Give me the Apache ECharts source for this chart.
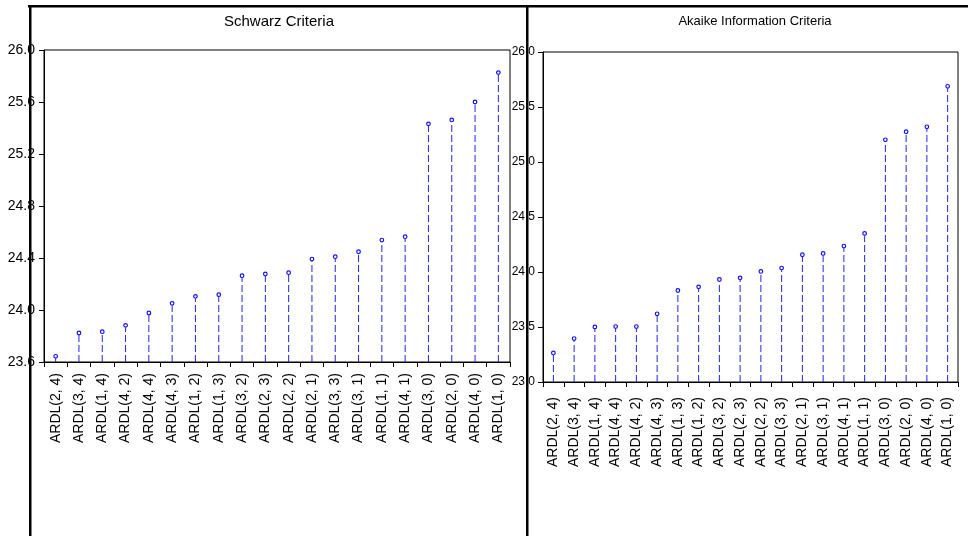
<!DOCTYPE html>
<html>
<head>
<meta charset="utf-8">
<script src="https://cdn.jsdelivr.net/npm/echarts@6/dist/echarts.min.js"></script>
<style>
  html, body { margin: 0; padding: 0; background: #fff; }
  #main { width: 968px; height: 536px; }
</style>
</head>
<body>
<div id="main"></div>
<script>
// Schwarz criteria (left panel)
const sicCategories = ['ARDL(2, 4)', 'ARDL(3, 4)', 'ARDL(1, 4)', 'ARDL(4, 2)', 'ARDL(4, 4)', 'ARDL(4, 3)',
  'ARDL(1, 2)', 'ARDL(1, 3)', 'ARDL(3, 2)', 'ARDL(2, 3)', 'ARDL(2, 2)', 'ARDL(2, 1)', 'ARDL(3, 3)',
  'ARDL(3, 1)', 'ARDL(1, 1)', 'ARDL(4, 1)', 'ARDL(3, 0)', 'ARDL(2, 0)', 'ARDL(4, 0)', 'ARDL(1, 0)']
const sicValues = [23.644, 23.823, 23.833, 23.882, 23.977, 24.051, 24.105, 24.118, 24.264, 24.277,
  24.287, 24.392, 24.410, 24.448, 24.538, 24.564, 25.432, 25.462, 25.600, 25.826]
const sicTicks = [23.6, 24.0, 24.4, 24.8, 25.2, 25.6, 26.0]

// Akaike information criteria (right panel)
const aicCategories = ['ARDL(2, 4)', 'ARDL(3, 4)', 'ARDL(1, 4)', 'ARDL(4, 4)', 'ARDL(4, 2)', 'ARDL(4, 3)',
  'ARDL(1, 3)', 'ARDL(1, 2)', 'ARDL(3, 2)', 'ARDL(2, 3)', 'ARDL(2, 2)', 'ARDL(3, 3)', 'ARDL(2, 1)',
  'ARDL(3, 1)', 'ARDL(4, 1)', 'ARDL(1, 1)', 'ARDL(3, 0)', 'ARDL(2, 0)', 'ARDL(4, 0)', 'ARDL(1, 0)']
const aicValues = [23.264, 23.395, 23.501, 23.504, 23.504, 23.620, 23.832, 23.865, 23.932, 23.947,
  24.005, 24.036, 24.157, 24.169, 24.236, 24.351, 25.202, 25.275, 25.320, 25.688]
const aicTicks = [23.0, 23.5, 24.0, 24.5, 25.0, 25.5, 26.0]

const chart = echarts.init(document.getElementById('main'))

// 竖线 + 空心圆点
let stemRender = (base) => {
  return function (params, api) {
    let top = api.coord([api.value(0), api.value(1)])
    let bottom = api.coord([api.value(0), base])
    return {
      type: 'group',
      children: [
        {
          type: 'line',
          shape: { x1: top[0], y1: bottom[1], x2: top[0], y2: top[1] + 2 },
          style: { stroke: '#2020ff', lineWidth: 1, lineDash: [7, 3] }
        },
        {
          type: 'circle',
          shape: { cx: top[0], cy: top[1], r: 1.8 },
          style: { fill: '#fff', stroke: '#1010ff', lineWidth: 1.2 }
        }
      ]
    }
  }
}

let xAxisBase = (idx, cats, margin) => ({
  type: 'category',
  gridIndex: idx,
  data: cats,
  boundaryGap: true,
  axisLine: { lineStyle: { color: '#000', width: 1 } },
  axisTick: { show: true, length: 5, lineStyle: { color: '#000' } },
  axisLabel: {
    rotate: 90,
    interval: 0,
    margin: margin,
    color: '#000',
    fontFamily: 'Liberation Sans',
    fontSize: 14
  }
})

let yAxisBase = (idx, ticks, interval, size, margin) => ({
  type: 'value',
  gridIndex: idx,
  min: ticks[0],
  max: ticks[ticks.length - 1],
  interval: interval,
  axisLine: { show: true, lineStyle: { color: '#000' } },
  axisTick: { show: true, length: 5, lineStyle: { color: '#000' } },
  splitLine: { show: false },
  axisLabel: {
    margin: margin,
    color: '#000',
    fontFamily: 'Liberation Sans',
    fontSize: size,
    formatter: v => v.toFixed(1)
  }
})

let option = {
  animation: false,
  title: [
    {
      text: 'Schwarz Criteria',
      left: 274,
      top: 9,
      textAlign: 'center',
      textStyle: { fontFamily: 'Liberation Sans', fontSize: 15, fontWeight: 'normal', color: '#000' }
    },
    {
      text: 'Akaike Information Criteria',
      left: 750,
      top: 10,
      textAlign: 'center',
      textStyle: { fontFamily: 'Liberation Sans', fontSize: 13, fontWeight: 'normal', color: '#000' }
    }
  ],
  grid: [
    { left: 44, top: 50, right: 458, bottom: 174, show: true, borderColor: '#000', borderWidth: 1 },
    { left: 543, top: 52, right: 10, bottom: 154, show: true, borderColor: '#000', borderWidth: 1 }
  ],
  xAxis: [
    xAxisBase(0, sicCategories, 11),
    xAxisBase(1, aicCategories, 15)
  ],
  yAxis: [
    yAxisBase(0, sicTicks, 0.4, 14, 9),
    yAxisBase(1, aicTicks, 0.5, 12, 8)
  ],
  series: [
    {
      type: 'custom',
      xAxisIndex: 0,
      yAxisIndex: 0,
      renderItem: stemRender(sicTicks[0]),
      data: sicValues.map((v, i) => [i, v]),
      clip: false
    },
    {
      type: 'custom',
      xAxisIndex: 1,
      yAxisIndex: 1,
      renderItem: stemRender(aicTicks[0]),
      data: aicValues.map((v, i) => [i, v]),
      clip: false
    }
  ],
  graphic: [
    // 外框
    { type: 'rect', z: 100, shape: { x: 28, y: 5, width: 940, height: 2.5 }, style: { fill: '#000' } },
    { type: 'rect', z: 100, shape: { x: 29, y: 5, width: 2.5, height: 531 }, style: { fill: '#000' } },
    { type: 'rect', z: 100, shape: { x: 526, y: 5, width: 2.5, height: 531 }, style: { fill: '#000' } }
  ]
}

chart.setOption(option)
</script>
</body>
</html>
